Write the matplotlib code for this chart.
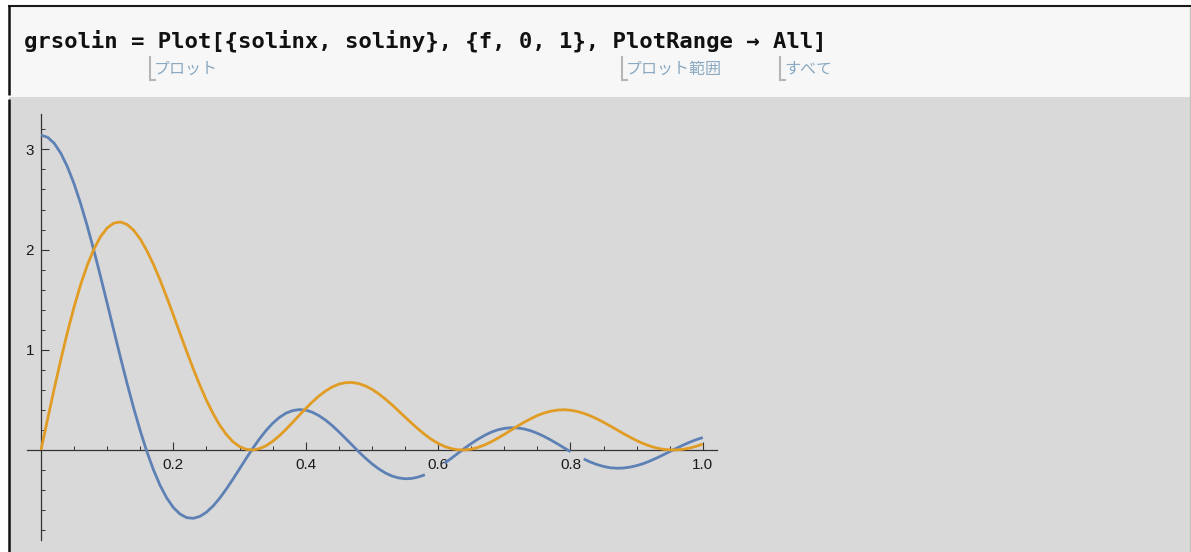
import numpy as np
import matplotlib
matplotlib.use("Agg")
import matplotlib.pyplot as plt
from matplotlib.patches import Rectangle

W, H, DPI = 1191, 552, 100

# sample grid of the plotted parameter f
f = np.linspace(0.0, 1.0, 101)

# solinx (blue); NaN marks the points where the curve is broken
solinx = [
    3.142, 3.121, 3.061, 2.961, 2.825, 2.656, 2.457, 2.233, 1.989, 1.731,
    1.464, 1.194, 0.926, 0.666, 0.420, 0.191, -0.017, -0.199, -0.354, -0.479,
    -0.574, -0.639, -0.675, -0.682, -0.663, -0.621, -0.559, -0.481, -0.390, -0.291,
    -0.188, -0.084, 0.017, 0.110, 0.194, 0.266, 0.324, 0.367, 0.393, 0.403,
    0.398, 0.377, 0.343, 0.298, 0.244, 0.182, 0.117, 0.050, -0.017, -0.080,
    -0.137, -0.187, -0.228, -0.259, -0.278, -0.287, -0.284, -0.270, -0.247, np.nan,
    np.nan, -0.131, -0.083, -0.033, 0.017, 0.064, 0.107, 0.145, 0.177, 0.201,
    0.216, 0.222, 0.220, 0.210, 0.192, 0.167, 0.136, 0.101, 0.063, 0.023,
    -0.017, np.nan, -0.089, -0.120, -0.145, -0.164, -0.177, -0.182, -0.180, -0.171,
    -0.156, -0.136, -0.110, -0.081, -0.049, -0.016, 0.017, 0.048, 0.077, 0.103,
    0.124,
]

# soliny (orange)
soliny = [
    0.000, 0.309, 0.612, 0.903, 1.177, 1.428, 1.653, 1.846, 2.006, 2.130,
    2.216, 2.264, 2.276, 2.251, 2.193, 2.105, 1.989, 1.851, 1.695, 1.525,
    1.347, 1.165, 0.985, 0.811, 0.647, 0.496, 0.363, 0.248, 0.155, 0.083,
    0.034, 0.007, 0.000, 0.013, 0.042, 0.086, 0.141, 0.205, 0.274, 0.345,
    0.414, 0.480, 0.539, 0.589, 0.629, 0.657, 0.672, 0.674, 0.663, 0.640,
    0.606, 0.562, 0.510, 0.453, 0.392, 0.329, 0.268, 0.209, 0.154, 0.106,
    0.066, 0.035, 0.014, 0.002, 0.001, 0.008, 0.025, 0.050, 0.081, 0.117,
    0.156, 0.197, 0.238, 0.277, 0.312, 0.344, 0.369, 0.387, 0.398, 0.402,
    0.397, 0.385, 0.366, 0.341, 0.311, 0.277, 0.240, 0.202, 0.164, 0.128,
    0.094, 0.064, 0.040, 0.020, 0.007, 0.001, 0.001, 0.007, 0.019, 0.037,
    0.059,
]

x_ticks = [0.2, 0.4, 0.6, 0.8, 1.0]
x_tick_labels = ["0.2", "0.4", "0.6", "0.8", "1.0"]
x_minor = [0.05, 0.1, 0.15, 0.25, 0.3, 0.35, 0.45, 0.5, 0.55,
           0.65, 0.7, 0.75, 0.85, 0.9, 0.95]
y_ticks = [1, 2, 3]
y_tick_labels = ["1", "2", "3"]
y_minor = [-0.8, -0.6, -0.4, -0.2, 0.2, 0.4, 0.6, 0.8, 1.2, 1.4, 1.6, 1.8,
           2.2, 2.4, 2.6, 2.8, 3.2]

code_line = "grsolin = Plot[{solinx, soliny}, {f, 0, 1}, PlotRange → All]"
hints = [("プロット", 150), ("プロット範囲", 622), ("すべて", 780)]

BLUE = "#5E81B5"
ORANGE = "#E19C24"
AXIS = "#333333"

fig = plt.figure(figsize=(W / DPI, H / DPI), dpi=DPI, facecolor="white")

# notebook background, drawn in pixel coordinates
bg = fig.add_axes([0, 0, 1, 1])
bg.set_xlim(0, W)
bg.set_ylim(H, 0)
bg.axis("off")
bg.add_patch(Rectangle((9, 6), W - 9, 91, facecolor="#f7f7f7", edgecolor="none"))
bg.add_patch(Rectangle((9, 97), W - 9, H - 97, facecolor="#d9d9d9", edgecolor="none"))
bg.plot([8, W], [6, 6], color="#1a1a1a", lw=1.5, solid_capstyle="butt")
bg.plot([9, 9], [5, 95], color="#111111", lw=1.8, solid_capstyle="butt")
bg.plot([9, 9], [99, H], color="#111111", lw=1.8, solid_capstyle="butt")
bg.plot([1189.5, 1189.5], [7, H], color="#c4c4c4", lw=1.0, solid_capstyle="butt")

# input line
bg.text(24, 48, code_line, fontsize=16.0, fontweight="bold",
        family="DejaVu Sans Mono", color="#111111", ha="left", va="baseline")

# function-name hints below the input line
for label, x0 in hints:
    bg.plot([x0, x0, x0 + 5], [57, 80, 80], color="#b5b5b5", lw=1.5,
            solid_joinstyle="miter")
    bg.text(x0 + 4, 69, label, fontsize=11.5, family=["Noto Sans CJK JP", "DejaVu Sans"],
            color="#8aa9c1", ha="left", va="center")

# plot area
x0p, x1p = -0.021, 1.021
y0p, y1p = -0.9, 3.35
px_x0 = 41 + 661.8 * x0p
px_x1 = 41 + 661.8 * x1p
px_y1 = 450 - 100.2 * y1p
px_y0 = 450 - 100.2 * y0p
ax = fig.add_axes([px_x0 / W, 1 - px_y0 / H, (px_x1 - px_x0) / W, (px_y0 - px_y1) / H])
ax.set_facecolor("none")
ax.set_xlim(x0p, x1p)
ax.set_ylim(y0p, y1p)

ax.plot(f, solinx, color=BLUE, lw=2.0, zorder=3, solid_capstyle="butt")
ax.plot(f, soliny, color=ORANGE, lw=2.0, zorder=4, solid_capstyle="butt")

for side in ("top", "right"):
    ax.spines[side].set_visible(False)
for side in ("left", "bottom"):
    ax.spines[side].set_position(("data", 0))
    ax.spines[side].set_color(AXIS)
    ax.spines[side].set_linewidth(0.9)

ax.set_xticks(x_ticks)
ax.set_xticklabels(x_tick_labels)
ax.set_xticks(x_minor, minor=True)
ax.set_yticks(y_ticks)
ax.set_yticklabels(y_tick_labels)
ax.set_yticks(y_minor, minor=True)

ax.tick_params(which="major", direction="in", length=5.8, width=0.8, color=AXIS,
               labelsize=11, labelcolor="#1a1a1a")
ax.tick_params(which="minor", direction="in", length=3.2, width=0.7, color=AXIS)
ax.tick_params(axis="x", which="major", pad=6)
ax.tick_params(axis="y", which="major", pad=5)
for lab in ax.get_xticklabels() + ax.get_yticklabels():
    lab.set_family("Liberation Sans")

fig.savefig("out.png", dpi=DPI, facecolor="white")
